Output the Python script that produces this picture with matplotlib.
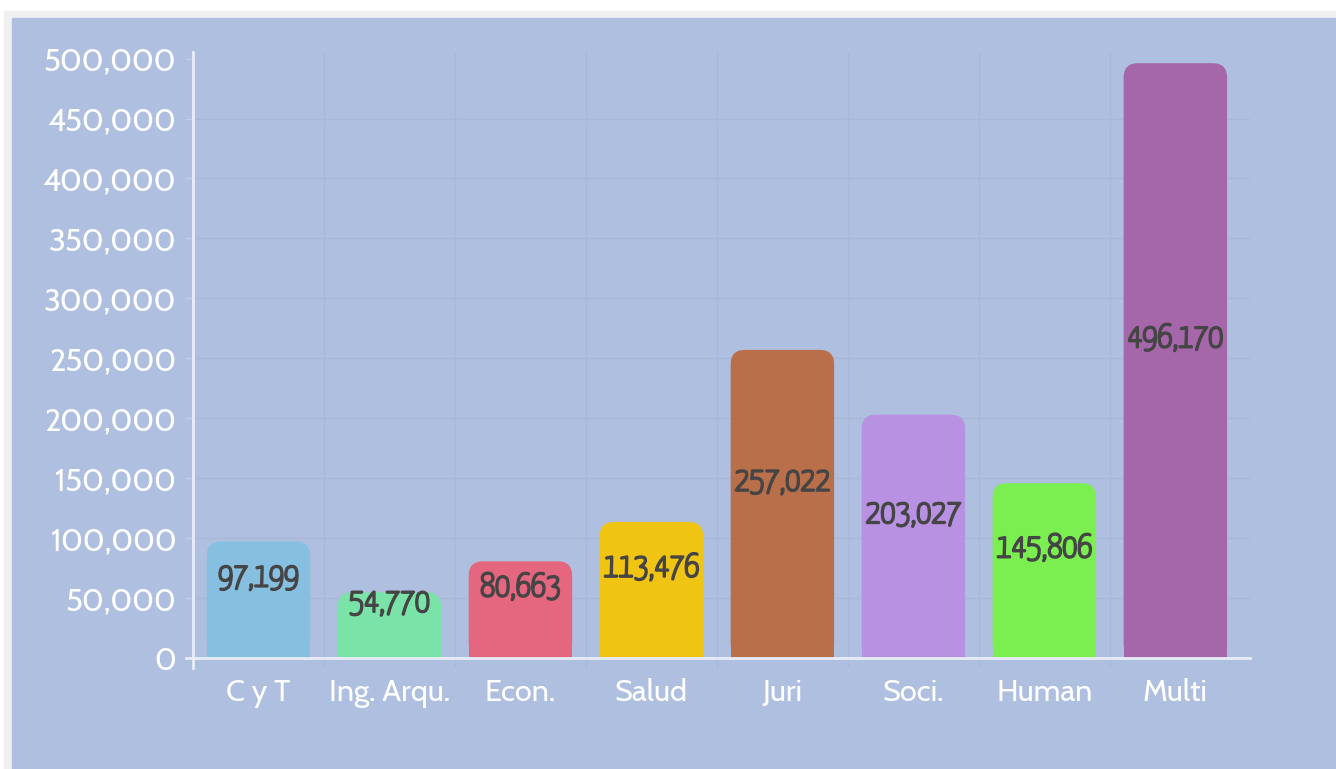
import matplotlib
matplotlib.use("Agg")
import matplotlib.pyplot as plt
import matplotlib.patheffects as pe
from matplotlib.patches import FancyBboxPatch, Rectangle
from matplotlib.ticker import FuncFormatter

# data
categories = ["C y T", "Ing. Arqu.", "Econ.", "Salud", "Juri", "Soci.", "Human", "Multi"]
values = [97199, 54770, 80663, 113476, 257022, 203027, 145806, 496170]
bar_colors = ["#86bfdf", "#7ae3a8", "#e5667f", "#f0c413", "#b86f4a", "#b991e3", "#7aef4f", "#a666aa"]
yticks = list(range(0, 500001, 50000))

BG = "#afbfdf"
GRID = "#a9b8d8"
AXIS = "#e8ecf6"
W, H = 1336, 769

plt.rcParams["font.family"] = ["Cabin", "DejaVu Sans"]

fig = plt.figure(figsize=(W / 100, H / 100), dpi=100, facecolor="white")
# light frame + panel
fig.patches.append(Rectangle((4 / W, 0), 1 - 4 / W, 1 - 11 / H, transform=fig.transFigure,
                             color="#f0f0f0", zorder=-10))
fig.patches.append(Rectangle((12 / W, 0), 1 - 12 / W, 1 - 18 / H, transform=fig.transFigure,
                             color=BG, zorder=-9))

ax = fig.add_axes([193 / W, (H - 668) / H, (1250 - 193) / W, (668 - 52) / H])
ax.set_facecolor("none")
ax.set_zorder(1)
ymin, ymax = -8333, 505500
ax.set_xlim(-0.5, 7.57)
ax.set_ylim(ymin, ymax)

# grid
for yv in yticks[1:-1]:
    ax.axhline(yv, color=GRID, lw=1, zorder=1)
for i in range(len(categories) - 1):
    ax.vlines(i + 0.5, ymin, ymax, color=GRID, lw=1, zorder=1)

# bars with rounded top corners
bw = 0.79
rx = 0.11
px_per_unit_y = (668 - 52) / (ymax - ymin)
px_per_unit_x = (1250 - 193) / 8.07
aspect = px_per_unit_x / px_per_unit_y
ry = rx * aspect
ax.bar(range(len(values)), [v - ry for v in values], width=bw, color=bar_colors, zorder=2, lw=0)
for i, (v, c) in enumerate(zip(values, bar_colors)):
    p = FancyBboxPatch((i - bw / 2, 0), bw, v, boxstyle="round,pad=0,rounding_size=%f" % rx,
                       mutation_aspect=aspect, fc=c, ec="none", zorder=2)
    ax.add_patch(p)
    ax.text(i, v / 2 + 19000, "{:,}".format(v), ha="center", va="center",
            fontsize=24, color="#454545", family=["Yanone Kaffeesatz", "DejaVu Sans"],
            path_effects=[pe.withStroke(linewidth=1.8, foreground="#454545")], zorder=3)

# axis lines
ax.axhline(0, xmin=-7 / (1250 - 193), xmax=1, color=AXIS, lw=2, zorder=4, clip_on=False)
for s in ("top", "right", "bottom"):
    ax.spines[s].set_visible(False)
ax.spines["left"].set_color(AXIS)
ax.spines["left"].set_linewidth(2)
ax.spines["left"].set_zorder(4)

ax.set_yticks(yticks)
ax.yaxis.set_major_formatter(FuncFormatter(lambda v, _: "{:,}".format(int(v))))
ax.tick_params(axis="y", length=6, width=1, color="#c3cde6", pad=6, labelsize=22.5,
               labelcolor="white")
ax.set_xticks(range(len(categories)))
ax.set_xticklabels(categories)
ax.tick_params(axis="x", length=0, pad=7, labelsize=22, labelcolor="white")

fig.savefig("out.png", dpi=100, facecolor="white")
